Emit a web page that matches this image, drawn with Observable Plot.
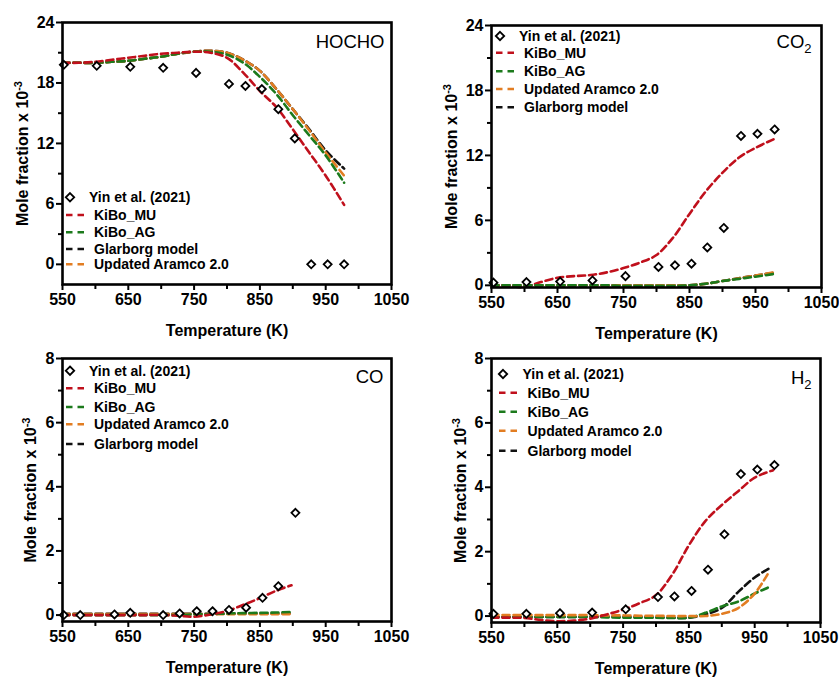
<!DOCTYPE html>
<html><head><meta charset="utf-8">
<script src="https://cdn.jsdelivr.net/npm/d3@7"></script>
<script src="https://cdn.jsdelivr.net/npm/@observablehq/plot@0.6"></script>
<style>
body{margin:0;background:#fff;}
#wrap{position:relative;width:839px;height:677px;overflow:hidden;background:#fff;}
#wrap svg{position:absolute;overflow:visible;}
</style></head><body><div id="wrap"></div>
<script>
// ---------- data ----------
const xMajor = [550, 650, 750, 850, 950, 1050];
const xMinor = [600, 700, 800, 900, 1000];
const seriesNames = ["Yin et al. (2021)", "KiBo_MU", "KiBo_AG", "Glarborg model", "Updated Aramco 2.0"];
const colors = {"KiBo_MU": "#c0101c", "KiBo_AG": "#1c7a1c", "Glarborg model": "#111111", "Updated Aramco 2.0": "#e27d22"};

// HOCHO
const hochoExpT = [552, 602, 653, 703, 753, 803, 828, 853, 878, 903, 928, 953, 978];
const hochoExpY = [19.8, 19.7, 19.6, 19.5, 19.0, 17.9, 17.7, 17.4, 15.4, 12.5, 0, 0, 0];
const hochoT = [550, 575, 600, 625, 650, 675, 700, 725, 750, 775, 800, 825, 850, 875, 900, 925, 950, 978];
const hochoMU = [20.0, 20.0, 20.1, 20.3, 20.5, 20.7, 20.9, 21.0, 21.1, 21.0, 20.5, 19.0, 17.2, 15.6, 13.4, 11.1, 8.8, 5.9];
const hochoAG = [20.0, 20.0, 20.0, 20.1, 20.2, 20.4, 20.6, 20.9, 21.1, 21.1, 20.8, 20.0, 18.6, 16.9, 14.8, 12.8, 10.8, 8.1];
const hochoGL = [20.0, 20.0, 20.0, 20.1, 20.2, 20.4, 20.6, 20.9, 21.1, 21.2, 21.0, 20.3, 19.2, 17.4, 15.4, 13.4, 11.3, 9.5];
const hochoAR = [20.0, 20.0, 20.0, 20.1, 20.2, 20.4, 20.6, 20.9, 21.1, 21.2, 21.0, 20.3, 19.2, 17.4, 15.4, 13.3, 11.1, 8.8];

// CO2
const co2ExpT = [553, 603, 654, 703, 753, 803, 828, 853, 877, 902, 928, 953, 979];
const co2ExpY = [0.25, 0.3, 0.35, 0.45, 0.85, 1.7, 1.85, 2.0, 3.5, 5.3, 13.8, 14.0, 14.4];
const co2T = [550, 575, 600, 625, 650, 675, 700, 725, 750, 775, 800, 825, 850, 875, 900, 925, 950, 978];
const co2MU = [0.0, -0.05, -0.15, 0.3, 0.7, 0.85, 0.95, 1.2, 1.6, 2.1, 2.8, 4.4, 6.6, 8.7, 10.4, 11.8, 12.7, 13.5];
const co2AG = [0.0, 0.0, 0.0, 0.0, 0.0, 0.0, 0.0, 0.0, -0.05, -0.05, -0.05, -0.05, 0.0, 0.15, 0.4, 0.6, 0.8, 1.05];
const co2GL = [0.0, 0.0, 0.0, 0.0, 0.0, 0.0, 0.0, 0.0, 0.0, 0.0, 0.0, 0.0, 0.0, 0.15, 0.4, 0.65, 0.9, 1.15];
const co2AR = [0.0, 0.0, 0.0, 0.0, 0.0, 0.0, 0.0, 0.0, 0.0, 0.0, 0.0, 0.0, 0.0, 0.15, 0.4, 0.65, 0.9, 1.2];

// CO
const coExpT = [552, 577, 629, 653, 703, 728, 754, 778, 803, 829, 854, 878, 904];
const coExpY = [0, 0, 0.02, 0.07, 0, 0.05, 0.12, 0.12, 0.16, 0.23, 0.54, 0.9, 3.19];
const coT = [550, 575, 600, 625, 650, 675, 700, 725, 750, 775, 800, 825, 850, 875, 898];
const coMU = [0, 0, 0, 0, 0, 0, 0, -0.02, -0.05, 0.02, 0.13, 0.32, 0.53, 0.76, 0.93];
const coAG = [0, 0, 0, 0, 0, 0, 0, 0, 0.02, 0.03, 0.05, 0.06, 0.07, 0.08, 0.1];
const coGL = [0.04, 0.04, 0.04, 0.04, 0.04, 0.04, 0.04, 0.04, 0.04, 0.04, 0.04, 0.05, 0.05, 0.05, 0.06];
const coAR = [0.03, 0.03, 0.03, 0.03, 0.03, 0.03, 0.03, 0.03, 0.03, 0.03, 0.03, 0.03, 0.03, 0.03, 0.03];

// H2
const h2ExpT = [553, 603, 654, 703, 754, 803, 828, 854, 879, 904, 929, 954, 980];
const h2ExpY = [0.07, 0.07, 0.09, 0.11, 0.21, 0.59, 0.61, 0.78, 1.44, 2.54, 4.41, 4.55, 4.69];
const h2T = [550, 575, 600, 625, 650, 675, 700, 725, 750, 775, 800, 825, 850, 875, 900, 925, 950, 978];
const h2MU = [-0.05, -0.05, -0.06, -0.12, -0.16, -0.14, -0.08, 0.05, 0.2, 0.4, 0.65, 1.3, 2.2, 2.95, 3.45, 3.88, 4.3, 4.53];
const h2ModelT = [550, 575, 600, 625, 650, 675, 700, 725, 750, 775, 800, 825, 850, 875, 900, 925, 950, 972];
const h2AG = [-0.03, -0.03, -0.03, -0.03, -0.03, -0.03, -0.03, -0.04, -0.05, -0.05, -0.05, -0.06, -0.05, 0.1, 0.3, 0.45, 0.7, 0.9];
const h2GL = [-0.03, -0.03, -0.03, -0.03, -0.03, -0.03, -0.02, -0.02, -0.03, -0.03, -0.04, -0.05, -0.05, 0.05, 0.25, 0.75, 1.2, 1.48];
const h2AR = [0.03, 0.03, 0.03, 0.03, 0.03, 0.03, 0.03, 0.02, 0.02, 0.01, 0.01, 0.0, 0.0, 0.0, 0.07, 0.25, 0.7, 1.38];

// ---------- helpers ----------
const zipXY = (T, Y) => T.map((t, i) => ({t, v: Y[i]}));
const FONT = "'Liberation Sans', Arial, sans-serif";
const wrap = document.getElementById("wrap");

function panel(cfg) {
  const lines = cfg.models.map(([name, T, Y]) =>
    Plot.line(zipXY(T, Y), {x: "t", y: "v", stroke: colors[name], strokeWidth: 2.6,
      strokeDasharray: "7,4", curve: "catmull-rom"}));
  const plot = Plot.plot({
    width: cfg.width, height: cfg.height,
    marginLeft: cfg.ml, marginRight: cfg.mr, marginTop: cfg.mt, marginBottom: cfg.mb,
    x: {domain: [550, 1050]},
    y: {domain: cfg.yDomain},
    style: {fontFamily: FONT, background: "transparent", color: "#000", overflow: "visible"},
    marks: [
      Plot.axisX({ticks: xMajor, tickFormat: d => String(d), tickSize: 6, tickPadding: 3, fontSize: 16, fontWeight: "bold", strokeWidth: 2, label: null}),
      Plot.axisX({ticks: xMinor, tickSize: 5, text: null, strokeWidth: 2, label: null}),
      Plot.axisY({ticks: cfg.yMajor, tickFormat: d => String(d), tickSize: 6, tickPadding: 2, fontSize: 16, fontWeight: "bold", strokeWidth: 2, label: null}),
      Plot.axisY({ticks: cfg.yMinor, tickSize: 4, text: null, strokeWidth: 2, label: null}),
      ...lines,
      Plot.dot(zipXY(cfg.expT, cfg.expY), {x: "t", y: "v", symbol: "diamond2", r: 3.6,
        stroke: "#000", fill: "#fff", strokeWidth: 1.8}),
      Plot.frame({strokeWidth: 2.6}),
      Plot.text(["Temperature (K)"], {text: d => d, frameAnchor: "bottom", textAnchor: "middle", dy: 51, fontSize: 16, fontWeight: "bold"}),
      Plot.text(["Mole fraction x 10"], {text: d => d, frameAnchor: "left", textAnchor: "middle", rotate: -90, dx: cfg.ylabDx, fontSize: 16, fontWeight: "bold"}),
      Plot.text([cfg.name], {text: d => d, frameAnchor: "top-right", textAnchor: "end", lineAnchor: "top",
        dx: cfg.nameDx, dy: cfg.nameDy, fontSize: 18.5, fontWeight: "normal"})
    ]
  });
  plot.style.left = cfg.left + "px";
  plot.style.top = cfg.top + "px";
  const s = d3.select(plot);
  s.selectAll("text").filter(function() { return this.textContent === "Mole fraction x 10"; })
    .append("tspan").attr("dy", -6).attr("font-size", 11).text("-3");
  if (cfg.sub) {
    s.selectAll("text").filter(function() { return this.textContent === cfg.name; })
      .append("tspan").attr("dy", 5).attr("font-size", 13).text(cfg.sub);
  }
  wrap.appendChild(plot);
}

function legend(cfg) {
  const svg = d3.select(wrap).append("svg").attr("width", 839).attr("height", 677)
    .style("left", "0px").style("top", "0px");
  cfg.order.forEach((name, i) => {
    const y = cfg.rows[i];
    if (name === seriesNames[0]) {
      const r = 4.2;
      svg.append("path").attr("d", `M${cfg.dx},${y - r}L${cfg.dx + r},${y}L${cfg.dx},${y + r}L${cfg.dx - r},${y}Z`)
        .attr("fill", "#fff").attr("stroke", "#000").attr("stroke-width", 1.8);
      svg.append("text").attr("x", cfg.tx0).attr("y", y).attr("dy", "0.35em").text(name)
        .attr("font-family", FONT).attr("font-size", 14).attr("font-weight", "bold");
    } else {
      svg.append("line").attr("x1", cfg.l0).attr("x2", cfg.l1).attr("y1", y).attr("y2", y)
        .attr("stroke", colors[name]).attr("stroke-width", 2.6).attr("stroke-dasharray", "6.5,5");
      svg.append("text").attr("x", cfg.tx1).attr("y", y).attr("dy", "0.35em").text(name)
        .attr("font-family", FONT).attr("font-size", 14).attr("font-weight", "bold");
    }
  });
}

// ---------- panels ----------
panel({left: 0, top: 0, width: 420, height: 345, ml: 62, mr: 29, mt: 22, mb: 61,
  yDomain: [-2, 24], yMajor: [0, 6, 12, 18, 24], yMinor: [3, 9, 15, 21],
  expT: hochoExpT, expY: hochoExpY,
  models: [["Glarborg model", hochoT, hochoGL], ["Updated Aramco 2.0", hochoT, hochoAR], ["KiBo_AG", hochoT, hochoAG], ["KiBo_MU", hochoT, hochoMU]],
  name: "HOCHO", nameDx: -7, nameDy: 12, ylabDx: -40});

panel({left: 420, top: 0, width: 419, height: 345, ml: 71, mr: 18, mt: 25, mb: 58,
  yDomain: [-0.2, 24], yMajor: [0, 6, 12, 18, 24], yMinor: [3, 9, 15, 21],
  expT: co2ExpT, expY: co2ExpY,
  models: [["Glarborg model", co2T, co2GL], ["Updated Aramco 2.0", co2T, co2AR], ["KiBo_MU", co2T, co2MU], ["KiBo_AG", co2T, co2AG]],
  name: "CO", sub: "2", nameDx: -10, nameDy: 9, ylabDx: -40});

panel({left: 0, top: 340, width: 420, height: 337, ml: 62, mr: 29, mt: 18, mb: 56,
  yDomain: [-0.2, 8], yMajor: [0, 2, 4, 6, 8], yMinor: [1, 3, 5, 7],
  expT: coExpT, expY: coExpY,
  models: [["Glarborg model", coT, coGL], ["Updated Aramco 2.0", coT, coAR], ["KiBo_AG", coT, coAG], ["KiBo_MU", coT, coMU]],
  name: "CO", nameDx: -8, nameDy: 11, ylabDx: -32});

panel({left: 420, top: 340, width: 419, height: 337, ml: 71, mr: 19, mt: 18, mb: 55,
  yDomain: [-0.2, 8], yMajor: [0, 2, 4, 6, 8], yMinor: [1, 3, 5, 7],
  expT: h2ExpT, expY: h2ExpY,
  models: [["Glarborg model", h2ModelT, h2GL], ["KiBo_AG", h2ModelT, h2AG], ["Updated Aramco 2.0", h2ModelT, h2AR], ["KiBo_MU", h2T, h2MU]],
  name: "H", sub: "2", nameDx: -9, nameDy: 12, ylabDx: -31});

// ---------- legends ----------
legend({order: [seriesNames[0], "KiBo_MU", "KiBo_AG", "Glarborg model", "Updated Aramco 2.0"],
  rows: [197.3, 215, 232.3, 249, 264.3], dx: 70, l0: 66, l1: 85, tx0: 89, tx1: 94});
legend({order: [seriesNames[0], "KiBo_MU", "KiBo_AG", "Updated Aramco 2.0", "Glarborg model"],
  rows: [36, 52.7, 71.3, 89, 107.3], dx: 500, l0: 496, l1: 515, tx0: 519, tx1: 524});
legend({order: [seriesNames[0], "KiBo_MU", "KiBo_AG", "Updated Aramco 2.0", "Glarborg model"],
  rows: [370.7, 388.3, 407, 424.3, 444], dx: 70, l0: 66, l1: 85, tx0: 89, tx1: 94});
legend({order: [seriesNames[0], "KiBo_MU", "KiBo_AG", "Updated Aramco 2.0", "Glarborg model"],
  rows: [374, 392.7, 411.7, 430.7, 450.7], dx: 503, l0: 499, l1: 518, tx0: 522.5, tx1: 527.5});
</script></body></html>
